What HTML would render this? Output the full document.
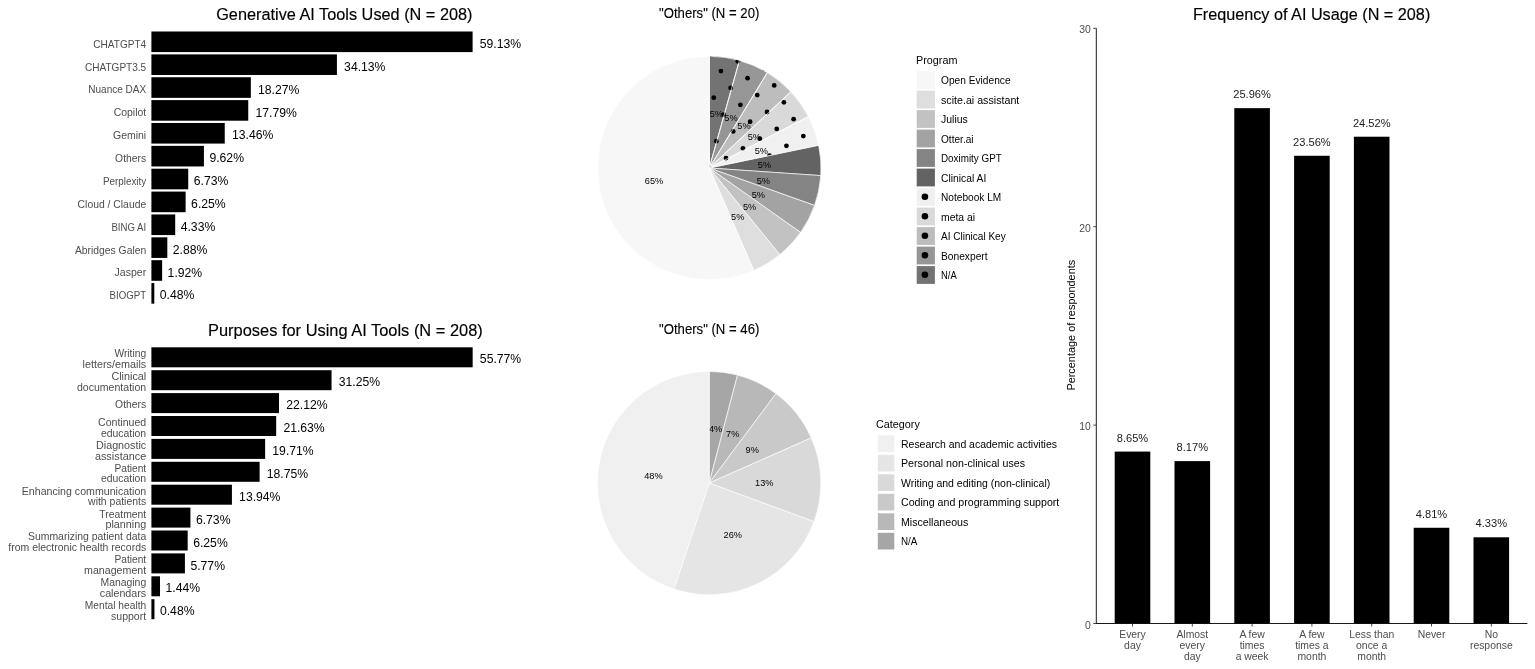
<!DOCTYPE html>
<html lang="en"><head><meta charset="utf-8"><title>Generative AI Tools Survey Figure</title>
<style>
html,body{margin:0;padding:0;background:#fff;}
body{width:1535px;height:669px;overflow:hidden;}
svg{display:block;font-family:"Liberation Sans", Arial, sans-serif;}
.t{font-size:16.7px;fill:#000;stroke:#000;stroke-width:0.15px;}
.t2{font-size:13.9px;fill:#000;stroke:#000;stroke-width:0.12px;}
.ax{font-size:10.4px;fill:#4d4d4d;}
.v{font-size:12.2px;fill:#000;}
.pl{font-size:9.2px;fill:#000;}
.lg{font-size:10.4px;fill:#000;}
.lgt{font-size:10.8px;fill:#000;}
</style></head><body>
<svg width="1535" height="669" viewBox="0 0 1535 669">
<rect width="1535" height="669" fill="#fff"/>

<text class="t" x="344.35" y="19.8" text-anchor="middle" textLength="256.3" lengthAdjust="spacingAndGlyphs">Generative AI Tools Used (N = 208)</text>
<rect x="151.4" y="31.50" width="321.20" height="20.6" fill="#000"/>
<text class="v" x="479.80" y="47.90">59.13%</text>
<text class="ax" x="146.2" y="47.70" text-anchor="end" textLength="52.9" lengthAdjust="spacingAndGlyphs">CHATGPT4</text>
<rect x="151.4" y="54.37" width="185.52" height="20.6" fill="#000"/>
<text class="v" x="344.12" y="70.77">34.13%</text>
<text class="ax" x="146.2" y="70.57" text-anchor="end" textLength="61.2" lengthAdjust="spacingAndGlyphs">CHATGPT3.5</text>
<rect x="151.4" y="77.24" width="99.45" height="20.6" fill="#000"/>
<text class="v" x="258.05" y="93.64">18.27%</text>
<text class="ax" x="146.2" y="93.44" text-anchor="end" textLength="57.9" lengthAdjust="spacingAndGlyphs">Nuance DAX</text>
<rect x="151.4" y="100.11" width="96.85" height="20.6" fill="#000"/>
<text class="v" x="255.45" y="116.51">17.79%</text>
<text class="ax" x="146.2" y="116.31" text-anchor="end" textLength="32.5" lengthAdjust="spacingAndGlyphs">Copilot</text>
<rect x="151.4" y="122.98" width="73.35" height="20.6" fill="#000"/>
<text class="v" x="231.95" y="139.38">13.46%</text>
<text class="ax" x="146.2" y="139.18" text-anchor="end" textLength="33.2" lengthAdjust="spacingAndGlyphs">Gemini</text>
<rect x="151.4" y="145.85" width="52.51" height="20.6" fill="#000"/>
<text class="v" x="209.41" y="162.25">9.62%</text>
<text class="ax" x="146.2" y="162.05" text-anchor="end" textLength="31.1" lengthAdjust="spacingAndGlyphs">Others</text>
<rect x="151.4" y="168.72" width="36.82" height="20.6" fill="#000"/>
<text class="v" x="193.72" y="185.12">6.73%</text>
<text class="ax" x="146.2" y="184.92" text-anchor="end" textLength="43.3" lengthAdjust="spacingAndGlyphs">Perplexity</text>
<rect x="151.4" y="191.59" width="34.22" height="20.6" fill="#000"/>
<text class="v" x="191.12" y="207.99">6.25%</text>
<text class="ax" x="146.2" y="207.79" text-anchor="end" textLength="68.6" lengthAdjust="spacingAndGlyphs">Cloud / Claude</text>
<rect x="151.4" y="214.46" width="23.80" height="20.6" fill="#000"/>
<text class="v" x="180.70" y="230.86">4.33%</text>
<text class="ax" x="146.2" y="230.66" text-anchor="end" textLength="34.8" lengthAdjust="spacingAndGlyphs">BING AI</text>
<rect x="151.4" y="237.33" width="15.93" height="20.6" fill="#000"/>
<text class="v" x="172.83" y="253.73">2.88%</text>
<text class="ax" x="146.2" y="253.53" text-anchor="end" textLength="71.3" lengthAdjust="spacingAndGlyphs">Abridges Galen</text>
<rect x="151.4" y="260.20" width="10.72" height="20.6" fill="#000"/>
<text class="v" x="167.62" y="276.60">1.92%</text>
<text class="ax" x="146.2" y="276.40" text-anchor="end" textLength="31.6" lengthAdjust="spacingAndGlyphs">Jasper</text>
<rect x="151.4" y="283.07" width="2.90" height="20.6" fill="#000"/>
<text class="v" x="159.80" y="299.47">0.48%</text>
<text class="ax" x="146.2" y="299.27" text-anchor="end" textLength="36.6" lengthAdjust="spacingAndGlyphs">BIOGPT</text>
<text class="t" x="345.4" y="335.7" text-anchor="middle" textLength="274.7" lengthAdjust="spacingAndGlyphs">Purposes for Using AI Tools (N = 208)</text>
<rect x="151.4" y="347.30" width="321.26" height="20.0" fill="#000"/>
<text class="v" x="479.86" y="363.40">55.77%</text>
<text class="ax" x="146.2" y="357.23" text-anchor="end" textLength="31.8" lengthAdjust="spacingAndGlyphs">Writing</text>
<text class="ax" x="146.2" y="367.98" text-anchor="end" textLength="63.7" lengthAdjust="spacingAndGlyphs">letters/emails</text>
<rect x="151.4" y="370.20" width="180.14" height="20.0" fill="#000"/>
<text class="v" x="338.74" y="386.30">31.25%</text>
<text class="ax" x="146.2" y="380.12" text-anchor="end" textLength="34.8" lengthAdjust="spacingAndGlyphs">Clinical</text>
<text class="ax" x="146.2" y="390.88" text-anchor="end" textLength="69.3" lengthAdjust="spacingAndGlyphs">documentation</text>
<rect x="151.4" y="393.10" width="127.60" height="20.0" fill="#000"/>
<text class="v" x="286.20" y="409.20">22.12%</text>
<text class="ax" x="146.2" y="408.40" text-anchor="end" textLength="31.1" lengthAdjust="spacingAndGlyphs">Others</text>
<rect x="151.4" y="416.00" width="124.78" height="20.0" fill="#000"/>
<text class="v" x="283.38" y="432.10">21.63%</text>
<text class="ax" x="146.2" y="425.93" text-anchor="end" textLength="48.2" lengthAdjust="spacingAndGlyphs">Continued</text>
<text class="ax" x="146.2" y="436.68" text-anchor="end" textLength="45.3" lengthAdjust="spacingAndGlyphs">education</text>
<rect x="151.4" y="438.90" width="113.73" height="20.0" fill="#000"/>
<text class="v" x="272.33" y="455.00">19.71%</text>
<text class="ax" x="146.2" y="448.82" text-anchor="end" textLength="50.2" lengthAdjust="spacingAndGlyphs">Diagnostic</text>
<text class="ax" x="146.2" y="459.57" text-anchor="end" textLength="51.3" lengthAdjust="spacingAndGlyphs">assistance</text>
<rect x="151.4" y="461.80" width="108.21" height="20.0" fill="#000"/>
<text class="v" x="266.81" y="477.90">18.75%</text>
<text class="ax" x="146.2" y="471.73" text-anchor="end" textLength="31.8" lengthAdjust="spacingAndGlyphs">Patient</text>
<text class="ax" x="146.2" y="482.48" text-anchor="end" textLength="45.3" lengthAdjust="spacingAndGlyphs">education</text>
<rect x="151.4" y="484.70" width="80.52" height="20.0" fill="#000"/>
<text class="v" x="239.12" y="500.80">13.94%</text>
<text class="ax" x="146.2" y="494.62" text-anchor="end" textLength="124.4" lengthAdjust="spacingAndGlyphs">Enhancing communication</text>
<text class="ax" x="146.2" y="505.38" text-anchor="end" textLength="58.1" lengthAdjust="spacingAndGlyphs">with patients</text>
<rect x="151.4" y="507.60" width="39.03" height="20.0" fill="#000"/>
<text class="v" x="195.93" y="523.70">6.73%</text>
<text class="ax" x="146.2" y="517.52" text-anchor="end" textLength="46.9" lengthAdjust="spacingAndGlyphs">Treatment</text>
<text class="ax" x="146.2" y="528.27" text-anchor="end" textLength="40.8" lengthAdjust="spacingAndGlyphs">planning</text>
<rect x="151.4" y="530.50" width="36.27" height="20.0" fill="#000"/>
<text class="v" x="193.17" y="546.60">6.25%</text>
<text class="ax" x="146.2" y="540.42" text-anchor="end" textLength="118.2" lengthAdjust="spacingAndGlyphs">Summarizing patient data</text>
<text class="ax" x="146.2" y="551.17" text-anchor="end" textLength="137.9" lengthAdjust="spacingAndGlyphs">from electronic health records</text>
<rect x="151.4" y="553.40" width="33.51" height="20.0" fill="#000"/>
<text class="v" x="190.41" y="569.50">5.77%</text>
<text class="ax" x="146.2" y="563.32" text-anchor="end" textLength="31.8" lengthAdjust="spacingAndGlyphs">Patient</text>
<text class="ax" x="146.2" y="574.07" text-anchor="end" textLength="62.1" lengthAdjust="spacingAndGlyphs">management</text>
<rect x="151.4" y="576.30" width="8.59" height="20.0" fill="#000"/>
<text class="v" x="165.49" y="592.40">1.44%</text>
<text class="ax" x="146.2" y="586.22" text-anchor="end" textLength="45.7" lengthAdjust="spacingAndGlyphs">Managing</text>
<text class="ax" x="146.2" y="596.97" text-anchor="end" textLength="46.4" lengthAdjust="spacingAndGlyphs">calendars</text>
<rect x="151.4" y="599.20" width="3.06" height="20.0" fill="#000"/>
<text class="v" x="159.96" y="615.30">0.48%</text>
<text class="ax" x="146.2" y="609.12" text-anchor="end" textLength="61.4" lengthAdjust="spacingAndGlyphs">Mental health</text>
<text class="ax" x="146.2" y="619.88" text-anchor="end" textLength="35.2" lengthAdjust="spacingAndGlyphs">support</text>
<text class="t2" x="709.2" y="17.75" text-anchor="middle" textLength="100.3" lengthAdjust="spacingAndGlyphs">"Others" (N = 20)</text>
<path d="M709.30,168.00L709.30,56.30A111.7,111.7 0 0 1 739.44,60.44Z" fill="#737373" stroke="#fff" stroke-width="0.65" stroke-linejoin="round"/>
<path d="M709.30,168.00L739.44,60.44A111.7,111.7 0 0 1 767.34,72.56Z" fill="#969696" stroke="#fff" stroke-width="0.65" stroke-linejoin="round"/>
<path d="M709.30,168.00L767.34,72.56A111.7,111.7 0 0 1 790.93,91.76Z" fill="#bdbdbd" stroke="#fff" stroke-width="0.65" stroke-linejoin="round"/>
<path d="M709.30,168.00L790.93,91.76A111.7,111.7 0 0 1 808.48,116.61Z" fill="#d9d9d9" stroke="#fff" stroke-width="0.65" stroke-linejoin="round"/>
<path d="M709.30,168.00L808.48,116.61A111.7,111.7 0 0 1 818.66,145.27Z" fill="#f0f0f0" stroke="#fff" stroke-width="0.65" stroke-linejoin="round"/>
<path d="M709.30,168.00L818.66,145.27A111.7,111.7 0 0 1 820.74,175.62Z" fill="#636363" stroke="#fff" stroke-width="0.65" stroke-linejoin="round"/>
<path d="M709.30,168.00L820.74,175.62A111.7,111.7 0 0 1 814.55,205.41Z" fill="#848484" stroke="#fff" stroke-width="0.65" stroke-linejoin="round"/>
<path d="M709.30,168.00L814.55,205.41A111.7,111.7 0 0 1 800.56,232.42Z" fill="#a3a3a3" stroke="#fff" stroke-width="0.65" stroke-linejoin="round"/>
<path d="M709.30,168.00L800.56,232.42A111.7,111.7 0 0 1 779.79,254.65Z" fill="#c2c2c2" stroke="#fff" stroke-width="0.65" stroke-linejoin="round"/>
<path d="M709.30,168.00L779.79,254.65A111.7,111.7 0 0 1 753.80,270.45Z" fill="#dedede" stroke="#fff" stroke-width="0.65" stroke-linejoin="round"/>
<path d="M709.30,168.00L753.80,270.45A111.7,111.7 0 1 1 709.30,56.30Z" fill="#f7f7f7" stroke="#fff" stroke-width="0.65" stroke-linejoin="round"/>
<clipPath id="dotclip"><path d="M709.30,168.00L709.30,56.60A111.4,111.4 0 0 1 818.37,145.34Z"/></clipPath>
<g clip-path="url(#dotclip)" fill="#000">
<circle cx="764.46" cy="68.50" r="2.4"/>
<circle cx="774.18" cy="85.40" r="2.4"/>
<circle cx="783.90" cy="102.30" r="2.4"/>
<circle cx="793.62" cy="119.20" r="2.4"/>
<circle cx="803.34" cy="136.10" r="2.4"/>
<circle cx="813.06" cy="153.00" r="2.4"/>
<circle cx="822.78" cy="169.90" r="2.4"/>
<circle cx="737.84" cy="61.32" r="2.4"/>
<circle cx="747.56" cy="78.22" r="2.4"/>
<circle cx="757.28" cy="95.12" r="2.4"/>
<circle cx="767.00" cy="112.02" r="2.4"/>
<circle cx="776.72" cy="128.92" r="2.4"/>
<circle cx="786.44" cy="145.82" r="2.4"/>
<circle cx="796.16" cy="162.72" r="2.4"/>
<circle cx="711.22" cy="54.14" r="2.4"/>
<circle cx="720.94" cy="71.04" r="2.4"/>
<circle cx="730.66" cy="87.94" r="2.4"/>
<circle cx="740.38" cy="104.84" r="2.4"/>
<circle cx="750.10" cy="121.74" r="2.4"/>
<circle cx="759.82" cy="138.64" r="2.4"/>
<circle cx="769.54" cy="155.54" r="2.4"/>
<circle cx="713.76" cy="97.66" r="2.4"/>
<circle cx="723.48" cy="114.56" r="2.4"/>
<circle cx="733.20" cy="131.46" r="2.4"/>
<circle cx="742.92" cy="148.36" r="2.4"/>
<circle cx="752.64" cy="165.26" r="2.4"/>
<circle cx="706.58" cy="124.28" r="2.4"/>
<circle cx="716.30" cy="141.18" r="2.4"/>
<circle cx="726.02" cy="158.08" r="2.4"/>
<circle cx="709.12" cy="167.80" r="2.4"/>
</g>
<line x1="709.3" y1="168.0" x2="709.30" y2="56.30" stroke="#fff" stroke-width="0.65"/>
<line x1="709.3" y1="168.0" x2="739.44" y2="60.44" stroke="#fff" stroke-width="0.65"/>
<line x1="709.3" y1="168.0" x2="767.34" y2="72.56" stroke="#fff" stroke-width="0.65"/>
<line x1="709.3" y1="168.0" x2="790.93" y2="91.76" stroke="#fff" stroke-width="0.65"/>
<line x1="709.3" y1="168.0" x2="808.48" y2="116.61" stroke="#fff" stroke-width="0.65"/>
<line x1="709.3" y1="168.0" x2="818.66" y2="145.27" stroke="#fff" stroke-width="0.65"/>
<text class="pl" x="716.30" y="116.87" text-anchor="middle">5%</text>
<text class="pl" x="730.95" y="120.97" text-anchor="middle">5%</text>
<text class="pl" x="743.95" y="128.88" text-anchor="middle">5%</text>
<text class="pl" x="754.33" y="139.99" text-anchor="middle">5%</text>
<text class="pl" x="761.33" y="153.50" text-anchor="middle">5%</text>
<text class="pl" x="764.42" y="168.39" text-anchor="middle">5%</text>
<text class="pl" x="763.38" y="183.56" text-anchor="middle">5%</text>
<text class="pl" x="758.29" y="197.89" text-anchor="middle">5%</text>
<text class="pl" x="749.52" y="210.32" text-anchor="middle">5%</text>
<text class="pl" x="737.72" y="219.92" text-anchor="middle">5%</text>
<text class="pl" x="654.02" y="183.56" text-anchor="middle">65%</text>
<text class="lgt" x="916" y="63.5">Program</text>
<rect x="916.7" y="71.10" width="18.2" height="17.8" fill="#f7f7f7"/>
<text class="lg" x="941" y="84.40" textLength="69.6" lengthAdjust="spacingAndGlyphs">Open Evidence</text>
<rect x="916.7" y="90.60" width="18.2" height="17.8" fill="#dedede"/>
<text class="lg" x="941" y="103.90" textLength="78.3" lengthAdjust="spacingAndGlyphs">scite.ai assistant</text>
<rect x="916.7" y="110.10" width="18.2" height="17.8" fill="#c2c2c2"/>
<text class="lg" x="941" y="123.40" textLength="26.8" lengthAdjust="spacingAndGlyphs">Julius</text>
<rect x="916.7" y="129.60" width="18.2" height="17.8" fill="#a3a3a3"/>
<text class="lg" x="941" y="142.90" textLength="32.6" lengthAdjust="spacingAndGlyphs">Otter.ai</text>
<rect x="916.7" y="149.10" width="18.2" height="17.8" fill="#848484"/>
<text class="lg" x="941" y="162.40" textLength="60.8" lengthAdjust="spacingAndGlyphs">Doximity GPT</text>
<rect x="916.7" y="168.60" width="18.2" height="17.8" fill="#636363"/>
<text class="lg" x="941" y="181.90" textLength="45.3" lengthAdjust="spacingAndGlyphs">Clinical AI</text>
<rect x="916.7" y="188.10" width="18.2" height="17.8" fill="#f0f0f0"/>
<circle cx="924.9" cy="196.70" r="3.3" fill="#000"/>
<text class="lg" x="941" y="201.40" textLength="60.2" lengthAdjust="spacingAndGlyphs">Notebook LM</text>
<rect x="916.7" y="207.60" width="18.2" height="17.8" fill="#d9d9d9"/>
<circle cx="924.9" cy="216.20" r="3.3" fill="#000"/>
<text class="lg" x="941" y="220.90" textLength="34.0" lengthAdjust="spacingAndGlyphs">meta ai</text>
<rect x="916.7" y="227.10" width="18.2" height="17.8" fill="#bdbdbd"/>
<circle cx="924.9" cy="235.70" r="3.3" fill="#000"/>
<text class="lg" x="941" y="240.40" textLength="64.7" lengthAdjust="spacingAndGlyphs">AI Clinical Key</text>
<rect x="916.7" y="246.60" width="18.2" height="17.8" fill="#969696"/>
<circle cx="924.9" cy="255.20" r="3.3" fill="#000"/>
<text class="lg" x="941" y="259.90" textLength="46.6" lengthAdjust="spacingAndGlyphs">Bonexpert</text>
<rect x="916.7" y="266.10" width="18.2" height="17.8" fill="#737373"/>
<circle cx="924.9" cy="274.70" r="3.3" fill="#000"/>
<text class="lg" x="941" y="279.40" textLength="15.7" lengthAdjust="spacingAndGlyphs">N/A</text>
<text class="t2" x="709.2" y="333.65" text-anchor="middle" textLength="100.3" lengthAdjust="spacingAndGlyphs">"Others" (N = 46)</text>
<path d="M709.20,483.10L709.20,371.40A111.7,111.7 0 0 1 737.53,375.05Z" fill="#a6a6a6" stroke="#fff" stroke-width="0.65" stroke-linejoin="round"/>
<text class="pl" x="715.64" y="432.31" text-anchor="middle">4%</text>
<path d="M709.20,483.10L737.53,375.05A111.7,111.7 0 0 1 776.01,393.58Z" fill="#b8b8b8" stroke="#fff" stroke-width="0.65" stroke-linejoin="round"/>
<text class="pl" x="732.73" y="437.38" text-anchor="middle">7%</text>
<path d="M709.20,483.10L776.01,393.58A111.7,111.7 0 0 1 811.34,437.89Z" fill="#c9c9c9" stroke="#fff" stroke-width="0.65" stroke-linejoin="round"/>
<text class="pl" x="752.17" y="452.88" text-anchor="middle">9%</text>
<path d="M709.20,483.10L811.34,437.89A111.7,111.7 0 0 1 814.03,521.68Z" fill="#d9d9d9" stroke="#fff" stroke-width="0.65" stroke-linejoin="round"/>
<text class="pl" x="764.32" y="485.91" text-anchor="middle">13%</text>
<path d="M709.20,483.10L814.03,521.68A111.7,111.7 0 0 1 674.00,589.11Z" fill="#e5e5e5" stroke="#fff" stroke-width="0.65" stroke-linejoin="round"/>
<text class="pl" x="732.73" y="538.02" text-anchor="middle">26%</text>
<path d="M709.20,483.10L674.00,589.11A111.7,111.7 0 0 1 709.20,371.40Z" fill="#f0f0f0" stroke="#fff" stroke-width="0.65" stroke-linejoin="round"/>
<text class="pl" x="653.37" y="478.79" text-anchor="middle">48%</text>
<text class="lgt" x="876" y="428">Category</text>
<rect x="877.8" y="435.30" width="16.5" height="16.7" fill="#f0f0f0"/>
<text class="lg" x="901" y="447.90" textLength="156.0" lengthAdjust="spacingAndGlyphs">Research and academic activities</text>
<rect x="877.8" y="454.80" width="16.5" height="16.7" fill="#e5e5e5"/>
<text class="lg" x="901" y="467.40" textLength="124.0" lengthAdjust="spacingAndGlyphs">Personal non-clinical uses</text>
<rect x="877.8" y="474.30" width="16.5" height="16.7" fill="#d9d9d9"/>
<text class="lg" x="901" y="486.90" textLength="149.3" lengthAdjust="spacingAndGlyphs">Writing and editing (non-clinical)</text>
<rect x="877.8" y="493.80" width="16.5" height="16.7" fill="#c9c9c9"/>
<text class="lg" x="901" y="506.40" textLength="158.3" lengthAdjust="spacingAndGlyphs">Coding and programming support</text>
<rect x="877.8" y="513.30" width="16.5" height="16.7" fill="#b8b8b8"/>
<text class="lg" x="901" y="525.90" textLength="67.3" lengthAdjust="spacingAndGlyphs">Miscellaneous</text>
<rect x="877.8" y="532.80" width="16.5" height="16.7" fill="#a6a6a6"/>
<text class="lg" x="901" y="545.40" textLength="16.4" lengthAdjust="spacingAndGlyphs">N/A</text>
<text class="t" x="1311.6" y="19.8" text-anchor="middle" textLength="237.4" lengthAdjust="spacingAndGlyphs">Frequency of AI Usage (N = 208)</text>
<line x1="1096.3" y1="28.30" x2="1096.3" y2="623.95" stroke="#000" stroke-width="0.9"/>
<line x1="1095.85" y1="623.5" x2="1527.4" y2="623.5" stroke="#000" stroke-width="0.9"/>
<line x1="1093.3" y1="623.50" x2="1096.3" y2="623.50" stroke="#333" stroke-width="0.9"/>
<text class="ax" x="1090.8" y="628.50" text-anchor="end">0</text>
<line x1="1093.3" y1="425.10" x2="1096.3" y2="425.10" stroke="#333" stroke-width="0.9"/>
<text class="ax" x="1090.8" y="430.10" text-anchor="end">10</text>
<line x1="1093.3" y1="226.70" x2="1096.3" y2="226.70" stroke="#333" stroke-width="0.9"/>
<text class="ax" x="1090.8" y="231.70" text-anchor="end">20</text>
<line x1="1093.3" y1="28.30" x2="1096.3" y2="28.30" stroke="#333" stroke-width="0.9"/>
<text class="ax" x="1090.8" y="33.30" text-anchor="end">30</text>
<text class="ax" style="fill:#000;font-size:10.9px" transform="translate(1075.0,325.2) rotate(-90)" text-anchor="middle">Percentage of respondents</text>
<rect x="1114.70" y="451.58" width="35.6" height="171.92" fill="#000"/>
<line x1="1132.50" y1="623.5" x2="1132.50" y2="626.5" stroke="#333" stroke-width="0.9"/>
<text class="ax" style="fill:#1a1a1a;font-size:11.1px" x="1132.50" y="441.78" text-anchor="middle">8.65%</text>
<text class="ax" x="1132.50" y="637.60" text-anchor="middle">Every</text>
<text class="ax" x="1132.50" y="648.55" text-anchor="middle">day</text>
<rect x="1174.50" y="461.11" width="35.6" height="162.39" fill="#000"/>
<line x1="1192.30" y1="623.5" x2="1192.30" y2="626.5" stroke="#333" stroke-width="0.9"/>
<text class="ax" style="fill:#1a1a1a;font-size:11.1px" x="1192.30" y="451.31" text-anchor="middle">8.17%</text>
<text class="ax" x="1192.30" y="637.60" text-anchor="middle">Almost</text>
<text class="ax" x="1192.30" y="648.55" text-anchor="middle">every</text>
<text class="ax" x="1192.30" y="659.50" text-anchor="middle">day</text>
<rect x="1234.30" y="108.15" width="35.6" height="515.35" fill="#000"/>
<line x1="1252.10" y1="623.5" x2="1252.10" y2="626.5" stroke="#333" stroke-width="0.9"/>
<text class="ax" style="fill:#1a1a1a;font-size:11.1px" x="1252.10" y="98.35" text-anchor="middle">25.96%</text>
<text class="ax" x="1252.10" y="637.60" text-anchor="middle">A few</text>
<text class="ax" x="1252.10" y="648.55" text-anchor="middle">times</text>
<text class="ax" x="1252.10" y="659.50" text-anchor="middle">a week</text>
<rect x="1294.10" y="155.77" width="35.6" height="467.73" fill="#000"/>
<line x1="1311.90" y1="623.5" x2="1311.90" y2="626.5" stroke="#333" stroke-width="0.9"/>
<text class="ax" style="fill:#1a1a1a;font-size:11.1px" x="1311.90" y="145.97" text-anchor="middle">23.56%</text>
<text class="ax" x="1311.90" y="637.60" text-anchor="middle">A few</text>
<text class="ax" x="1311.90" y="648.55" text-anchor="middle">times a</text>
<text class="ax" x="1311.90" y="659.50" text-anchor="middle">month</text>
<rect x="1353.90" y="136.72" width="35.6" height="486.78" fill="#000"/>
<line x1="1371.70" y1="623.5" x2="1371.70" y2="626.5" stroke="#333" stroke-width="0.9"/>
<text class="ax" style="fill:#1a1a1a;font-size:11.1px" x="1371.70" y="126.92" text-anchor="middle">24.52%</text>
<text class="ax" x="1371.70" y="637.60" text-anchor="middle">Less than</text>
<text class="ax" x="1371.70" y="648.55" text-anchor="middle">once a</text>
<text class="ax" x="1371.70" y="659.50" text-anchor="middle">month</text>
<rect x="1413.70" y="527.77" width="35.6" height="95.73" fill="#000"/>
<line x1="1431.50" y1="623.5" x2="1431.50" y2="626.5" stroke="#333" stroke-width="0.9"/>
<text class="ax" style="fill:#1a1a1a;font-size:11.1px" x="1431.50" y="517.97" text-anchor="middle">4.81%</text>
<text class="ax" x="1431.50" y="637.60" text-anchor="middle">Never</text>
<rect x="1473.50" y="537.29" width="35.6" height="86.21" fill="#000"/>
<line x1="1491.30" y1="623.5" x2="1491.30" y2="626.5" stroke="#333" stroke-width="0.9"/>
<text class="ax" style="fill:#1a1a1a;font-size:11.1px" x="1491.30" y="527.49" text-anchor="middle">4.33%</text>
<text class="ax" x="1491.30" y="637.60" text-anchor="middle">No</text>
<text class="ax" x="1491.30" y="648.55" text-anchor="middle">response</text>
</svg></body></html>
